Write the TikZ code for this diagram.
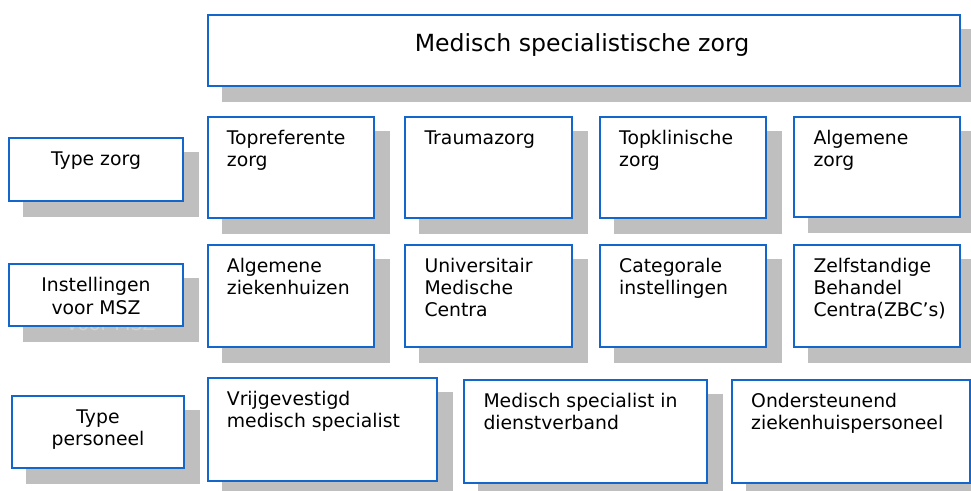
\documentclass[tikz,border=0pt]{standalone}
\usepackage{fontspec}
\setmainfont{DejaVu Sans}
\definecolor{bordblue}{RGB}{18,102,204}
\definecolor{shadowgray}{RGB}{191,191,191}
\definecolor{ghostgray}{RGB}{210,210,210}
\tikzset{
  boxst/.style={draw=bordblue, line width=2pt, fill=white, rectangle, inner sep=0pt},
  txt/.style={font=\fontsize{18.8}{22.2}\selectfont, inner sep=0pt, text=black},
  titletxt/.style={font=\fontsize{23.6}{28}\selectfont, inner sep=0pt, text=black},
}
% name, x, y, w, h, text  (top-left aligned text)
\newcommand{\mkbox}[6]{%
  \fill[shadowgray] (#2+15,-#3-15) rectangle (#2+#4+17,-#3-#5-17);
  \node[boxst, minimum width=#4pt, minimum height=#5pt, anchor=north west] (#1) at (#2,-#3) {};
  \node[txt, align=left, anchor=north west] (#1-t) at ([xshift=20pt,yshift=-12.6pt]#1.north west) {\strut #6};
}
% name, x, y, w, h, text, extra drawn between shadow and box (centred text)
\newcommand{\mklabel}[7]{%
  \fill[shadowgray] (#2+15,-#3-15) rectangle (#2+#4+17,-#3-#5-17);
  #7
  \node[boxst, minimum width=#4pt, minimum height=#5pt, anchor=north west] (#1) at (#2,-#3) {};
  \node[txt, align=center, anchor=north] (#1-t) at ([yshift=-12.8pt]#1.north) {\strut #6};
}
\begin{document}
\begin{tikzpicture}[x=1pt,y=1pt]
\useasboundingbox (0,0) rectangle (971,-490);
\clip (0,0) rectangle (971,-490);
\fill[white] (0,0) rectangle (971,-490);

% title
\fill[shadowgray] (207+15,-13.5-15) rectangle (207+752+17,-13.5-71.5-17);
\node[boxst, minimum width=752pt, minimum height=71.5pt, anchor=north west] (title) at (207,-13.5) {};
\node[titletxt, anchor=base] (title-t) at (582,-51.5) {Medisch specialistische zorg};

% left labels
\mklabel{L1}{8.3}{137.3}{173.4}{62.7}{Type zorg}{}
\mklabel{L2}{8}{263.3}{174}{61.7}{Instellingen\\voor MSZ}{%
  \node[txt, align=center, anchor=north, text=ghostgray] (L2-ghost) at (95+16,-263.3-12.8-16-22.2) {\strut voor MSZ};}
\mklabel{L3}{10.7}{395}{172.6}{72.3}{Type\\personeel}{}

% row 1
\mkbox{a1}{206.7}{115.7}{166.6}{101.6}{Topreferente\\zorg}
\mkbox{a2}{404.3}{115.7}{166.6}{101.6}{Traumazorg}
\mkbox{a3}{599}{115.7}{166}{101.6}{Topklinische\\zorg}
\mkbox{a4}{793.3}{115.7}{166}{100}{Algemene\\zorg}

% row 2
\mkbox{b1}{206.7}{244}{166.6}{101.7}{Algemene\\ziekenhuizen}
\mkbox{b2}{404.3}{244}{166.6}{101.7}{Universitair\\Medische\\Centra}
\mkbox{b3}{599}{244}{166}{101.7}{Categorale\\instellingen}
\mkbox{b4}{793.3}{244}{166}{101.7}{Zelfstandige\\Behandel\\Centra(ZBC’s)}

% row 3
\mkbox{c1}{206.7}{377.3}{229}{102.7}{Vrijgevestigd\\medisch specialist}
\mkbox{c2}{463.3}{379}{242.4}{103.3}{Medisch specialist in\\dienstverband}
\mkbox{c3}{731}{379}{238}{102.7}{Ondersteunend\\ziekenhuispersoneel}
\end{tikzpicture}
\end{document}
